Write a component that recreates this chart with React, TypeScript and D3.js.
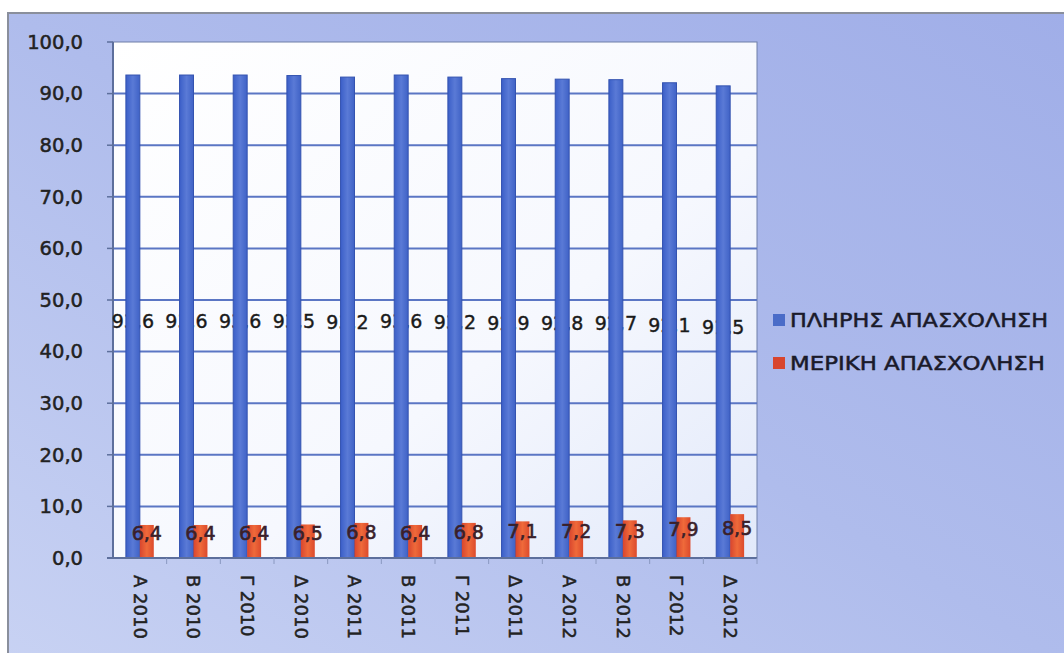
import React from "react";
import * as d3 from "d3";

const quarters = [
  "Α 2010", "Β 2010", "Γ 2010", "Δ 2010",
  "Α 2011", "Β 2011", "Γ 2011", "Δ 2011",
  "Α 2012", "Β 2012", "Γ 2012", "Δ 2012",
];
const fullTime = [93.6, 93.6, 93.6, 93.5, 93.2, 93.6, 93.2, 92.9, 92.8, 92.7, 92.1, 91.5];
const partTime = [6.4, 6.4, 6.4, 6.5, 6.8, 6.4, 6.8, 7.1, 7.2, 7.3, 7.9, 8.5];
const yTicks = [0, 10, 20, 30, 40, 50, 60, 70, 80, 90, 100];
const seriesNames = ["ΠΛΗΡΗΣ ΑΠΑΣΧΟΛΗΣΗ", "ΜΕΡΙΚΗ ΑΠΑΣΧΟΛΗΣΗ"];
const legendWidths = [258, 255];

const W = 1064;
const H = 653;
const plot = { left: 113, right: 757, top: 42, bottom: 558 };
const font = "'DejaVu Sans', sans-serif";
const fmt = (v: number) => v.toFixed(1).replace(".", ",");

export default function App() {
  const x = d3
    .scaleBand<string>()
    .domain(quarters)
    .range([plot.left, plot.right])
    .paddingInner(0.48)
    .paddingOuter(0.24);
  const y = d3.scaleLinear().domain([0, 100]).range([plot.bottom, plot.top]);
  const bw = x.bandwidth() / 2;

  return (
    <div style={{ position: "fixed", left: 0, top: 0 }}>
      <svg width={W} height={H} style={{ display: "block", fontFamily: font }}>
        <defs>
          <linearGradient id="outer" x1="1" y1="0" x2="0" y2="1">
            <stop offset="0" stopColor="#a0aee8" />
            <stop offset="0.5" stopColor="#afbcec" />
            <stop offset="1" stopColor="#c8d2f3" />
          </linearGradient>
          <linearGradient id="inner" x1="0" y1="0" x2="1" y2="1">
            <stop offset="0" stopColor="#ffffff" />
            <stop offset="0.6" stopColor="#f6f8fe" />
            <stop offset="1" stopColor="#e2e9fa" />
          </linearGradient>
          <linearGradient id="blueBar" x1="0" y1="0" x2="1" y2="0">
            <stop offset="0" stopColor="#3b5fc8" />
            <stop offset="0.5" stopColor="#5a7ad6" />
            <stop offset="1" stopColor="#3f62c6" />
          </linearGradient>
          <linearGradient id="redBar" x1="0" y1="0" x2="1" y2="0">
            <stop offset="0" stopColor="#d8452e" />
            <stop offset="0.5" stopColor="#ef6a3a" />
            <stop offset="1" stopColor="#dc4a2c" />
          </linearGradient>
        </defs>

        <rect x={0} y={0} width={W} height={H} fill="#ffffff" />
        <rect x={8} y={13} width={W - 4} height={H} fill="url(#outer)" stroke="#8a8f9c" strokeWidth={2} />

        {/* plot area */}
        <rect
          x={plot.left}
          y={plot.top}
          width={plot.right - plot.left}
          height={plot.bottom - plot.top}
          fill="url(#inner)"
          stroke="#6f7fa8"
          strokeWidth={1}
        />

        {/* grid lines */}
        {yTicks.slice(1, -1).map((t) => (
          <line
            key={t}
            x1={plot.left}
            x2={plot.right}
            y1={y(t)}
            y2={y(t)}
            stroke="#5b76c4"
            strokeWidth={2}
          />
        ))}

        {/* y axis */}
        <line x1={plot.left} x2={plot.left} y1={plot.top} y2={plot.bottom} stroke="#5d6f9c" strokeWidth={2} />
        {yTicks.map((t) => (
          <g key={t}>
            <line x1={plot.left - 6} x2={plot.left} y1={y(t)} y2={y(t)} stroke="#5d6f9c" strokeWidth={1.5} />
            <text
              x={83}
              y={y(t)}
              dy="0.35em"
              textAnchor="end"
              fontSize={19.5}
              fill="#222"
              stroke="#222"
              strokeWidth={0.5}
            >
              {fmt(t)}
            </text>
          </g>
        ))}

        {/* full-time labels drawn under the bars, as in the original */}
        {quarters.map((q, i) => (
          <text
            key={"fl" + q}
            x={(x(q) as number) + bw / 2}
            y={y(fullTime[i] / 2) + 5}
            dy="0.35em"
            textAnchor="middle"
            fontSize={19}
            fill="#1a1a1a"
            stroke="#1a1a1a"
            strokeWidth={0.4}
          >
            {fmt(fullTime[i])}
          </text>
        ))}

        {/* bars */}
        {quarters.map((q, i) => (
          <g key={q}>
            <rect
              x={x(q) as number}
              y={y(fullTime[i])}
              width={bw}
              height={y(0) - y(fullTime[i])}
              fill="url(#blueBar)"
              stroke="#3453b0"
              strokeWidth={1}
            />
            <rect
              x={(x(q) as number) + bw}
              y={y(partTime[i])}
              width={bw}
              height={y(0) - y(partTime[i])}
              fill="url(#redBar)"
            />
          </g>
        ))}

        {/* part-time labels */}
        {quarters.map((q, i) => (
          <text
            key={"pl" + q}
            x={(x(q) as number) + bw * 1.5}
            y={y(partTime[i] / 2) - 8}
            dy="0.35em"
            textAnchor="middle"
            fontSize={19}
            fill="#3a1f2a"
            stroke="#3a1f2a"
            strokeWidth={0.6}
          >
            {fmt(partTime[i])}
          </text>
        ))}

        {/* x axis */}
        <line x1={plot.left - 6} x2={plot.right} y1={plot.bottom} y2={plot.bottom} stroke="#5d6f9c" strokeWidth={2} />
        {quarters.map((q) => {
          const cx = (x(q) as number) + x.bandwidth() / 2;
          const tickX = (x(q) as number) - (x.step() - x.bandwidth()) / 2;
          return (
            <g key={"x" + q}>
              <line x1={tickX + x.step()} x2={tickX + x.step()} y1={plot.bottom} y2={plot.bottom + 6} stroke="#8a98c0" />
              <text
                transform={`translate(${cx},${plot.bottom + 17}) rotate(90)`}
                dy="0.35em"
                fontSize={18}
                fill="#222"
                stroke="#222"
                strokeWidth={0.5}
              >
                {q}
              </text>
            </g>
          );
        })}

        {/* legend */}
        {seriesNames.map((s, i) => (
          <g key={s} transform={`translate(773,${320 + i * 43})`}>
            <rect x={0} y={-6} width={12} height={12} fill={i === 0 ? "#4a6cc8" : "#d8452e"} />
            <text
              x={17}
              y={0}
              dy="0.36em"
              fontSize={19}
              fill="#1a1a2a"
              stroke="#1a1a2a"
              strokeWidth={0.5}
              textLength={legendWidths[i]}
              lengthAdjust="spacingAndGlyphs"
            >
              {s}
            </text>
          </g>
        ))}
      </svg>
    </div>
  );
}
